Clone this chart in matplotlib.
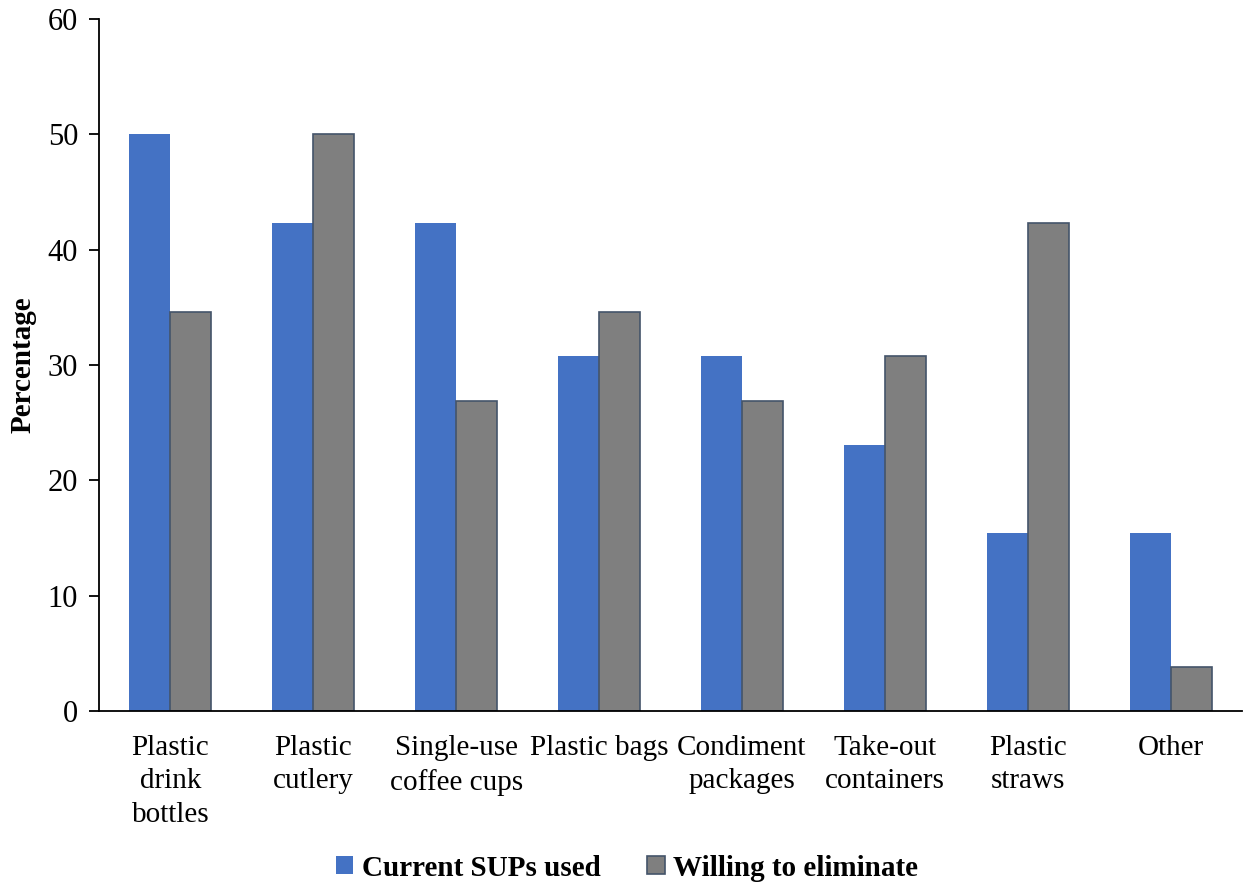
import matplotlib
matplotlib.use("Agg")
import matplotlib.pyplot as plt
import numpy as np

categories = ["Plastic\ndrink\nbottles", "Plastic\ncutlery", "Single-use\ncoffee cups",
              "Plastic bags", "Condiment\npackages", "Take-out\ncontainers",
              "Plastic\nstraws", "Other"]
current_sups = [50.0, 42.3, 42.3, 30.8, 30.8, 23.1, 15.4, 15.4]
willing_to_eliminate = [34.6, 50.0, 26.9, 34.6, 26.9, 30.8, 42.3, 3.8]
yticks = [0, 10, 20, 30, 40, 50, 60]

plt.rcParams['font.family'] = ['Liberation Serif', 'DejaVu Serif']

fig = plt.figure(figsize=(12.46, 8.86), dpi=100)
ax = fig.add_axes([99 / 1246, 1 - 711 / 886, 1143 / 1246, 692 / 886])

x = np.arange(len(categories))
w = 0.287
ax.bar(x - w / 2, current_sups, w, color="#4472C4", label="Current SUPs used", zorder=2)
ax.bar(x + w / 2, willing_to_eliminate, w, color="#7F7F7F", edgecolor="#44546A",
       linewidth=1.2, label="Willing to eliminate", zorder=2)

ax.set_xlim(-0.5, len(categories) - 0.5)
ax.set_ylim(0, 60)
ax.set_yticks(yticks)
ax.tick_params(axis='y', labelsize=22, length=7, width=1.3, direction='out', pad=8)
ax.set_xticks(x)
ax.set_xticklabels(categories, fontsize=21, linespacing=1.38)
ax.tick_params(axis='x', length=0, pad=17)
for s in ["top", "right"]:
    ax.spines[s].set_visible(False)
for s in ["left", "bottom"]:
    ax.spines[s].set_linewidth(1.3)
ax.set_ylabel("Percentage", fontsize=21, fontweight="bold", labelpad=8)

leg = fig.legend(loc="center", bbox_to_anchor=(627 / 1246, 1 - 868 / 886), ncol=2,
                 frameon=False, prop={'size': 21, 'weight': 'bold'},
                 handlelength=0.6, handleheight=0.6, handletextpad=0.3, columnspacing=1.6)

fig.savefig("out.png", dpi=100)
